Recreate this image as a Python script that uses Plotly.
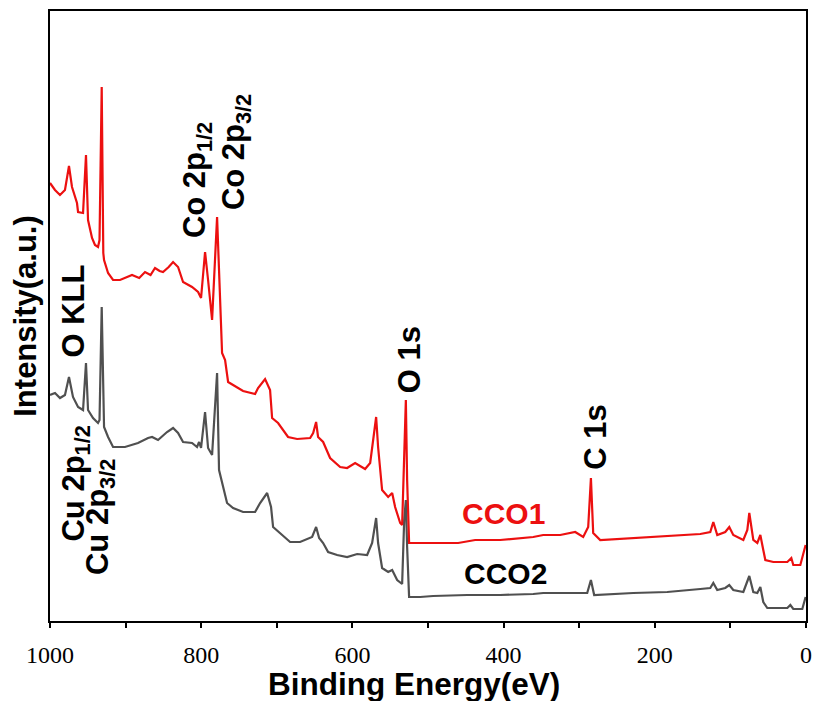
import plotly.graph_objects as go

# Binding energy (eV) and intensity (a.u.)
cco1_be = [1000, 993.4, 986.8, 980.2, 974.9, 970.9, 964.3, 962.9, 956.3, 952.4, 949.7, 944.4, 940.5,
           936.5, 934.5, 931.6, 929.5, 928.5, 923.2, 916.6, 907.4, 900.0, 891.5, 882.0, 874.3, 867.0,
           861.1, 855.0, 850.5, 843.0, 837.2,
           830.6, 824.0, 812.1, 804.1, 800.2, 794.9, 790.9, 785.6, 779.0, 775.0, 772.4, 768.4, 764.4,
           757.8, 744.6, 728.7, 724.8, 715.5, 708.9, 706.2, 698.3, 685.1, 673.1, 655.9, 651.9, 648.0,
           645.4, 638.7, 629.5, 616.2, 607.0, 596.4, 583.2, 576.5, 572.6, 568.6, 566.0, 560.7, 552.7,
           547.4, 543.5, 536.8, 534.2, 531.5, 529.3, 527.6, 525.0, 510.4, 493.2, 460.1, 437.6, 404.5,
           360.8, 347.6, 325.1, 305.3, 294.7, 288.1, 284.5, 281.5, 272.2, 228.5, 183.5, 139.8, 126.6,
           122.6, 117.4, 106.8, 101.5, 96.2, 82.9, 77.6, 75.0, 69.7, 64.4, 60.4, 56.5, 53.8, 43.2,
           24.7, 19.4, 16.8, 7.5, 3.6, 0.5]
cco1_int = [438, 431, 426, 431, 455, 434, 418, 409, 408, 466, 401, 383, 376,
            374, 381, 534, 368, 361, 348, 341, 341, 343, 346, 343, 349, 346,
            353, 350, 349, 354, 359,
            354, 339, 334, 329, 323, 369, 341, 301, 404, 321, 268, 261, 239,
            236, 230, 227, 233, 242, 231, 203, 198, 184, 182, 183, 188, 199,
            184, 179, 163, 154, 153, 158, 152, 158, 181, 204, 174, 131, 124,
            128, 114, 98, 96, 174, 221, 141, 78, 78, 78, 78, 81, 81,
            84, 86, 86, 89, 84, 94, 143, 88, 81, 83, 85, 87, 89,
            99, 86, 89, 94, 86, 81, 91, 108, 81, 78, 86, 71, 61, 59,
            59, 63, 56, 56, 68, 76]

cco2_be = [1000, 993.4, 986.8, 980.2, 974.9, 969.6, 962.9, 956.3, 952.4, 949.7, 943.1, 936.5, 934.5,
           931.6, 928.5, 923.2, 916.6, 900.8, 883.6, 870.3, 865.0, 857.1, 845.2, 837.2, 830.6, 824.0,
           812.1, 805.5, 802.8, 800.2, 794.9, 790.9, 785.6, 779.0, 776.4, 772.4, 765.8, 757.8, 744.6,
           728.7, 722.1, 712.8, 707.6, 704.9, 695.6, 682.4, 669.2, 653.3, 648.0, 644.0, 638.7, 632.1,
           620.2, 607.0, 593.7, 580.5, 573.9, 568.6, 566.0, 560.7, 552.7, 547.4, 540.8, 534.2, 531.5,
           529.3, 527.6, 525.0, 510.4, 493.2, 448.2, 404.5, 360.8, 347.6, 307.9, 289.4, 284.5, 280.2,
           228.5, 183.5, 139.8, 126.6, 122.6, 117.4, 106.8, 101.5, 96.2, 82.9, 75.0, 69.7, 64.4, 60.4,
           56.5, 51.2, 24.7, 20.7, 16.8, 4.9, 0.5]
cco2_int = [226, 228, 223, 226, 244, 224, 214, 211, 258, 211, 203, 198, 201,
            314, 194, 184, 174, 174, 178, 183, 184, 181, 189, 193, 188, 179,
            178, 174, 179, 173, 209, 173, 166, 248, 151, 138, 118, 113, 109,
            109, 118, 128, 114, 94, 88, 79, 79, 84, 94, 83, 78, 69,
            66, 64, 67, 66, 78, 103, 78, 53, 49, 51, 41, 37, 101,
            121, 74, 24, 24, 25, 26, 26, 27, 28, 28, 28, 41, 26,
            28, 29, 32, 33, 38, 31, 33, 36, 31, 29, 45, 29, 28, 34,
            19, 13, 13, 16, 12, 12, 24]

peak_labels = ["O KLL", "Cu 2p<sub>1/2</sub>", "Cu 2p<sub>3/2</sub>", "Co 2p<sub>1/2</sub>",
               "Co 2p<sub>3/2</sub>", "O 1s", "C 1s"]
peak_label_be = [970.2, 966.9, 934.5, 806.1, 754.5, 524.3, 278.8]
peak_label_int = [310, 137.5, 103.5, 440.5, 468.5, 261.5, 183.5]

series_names = ["CCO1", "CCO2"]
x_tick_vals = [1000, 800, 600, 400, 200, 0]
x_tick_text = ["1000", "800", "600", "400", "200", "0"]
x_minor_tick_vals = [900, 700, 500, 300, 100]

RED = "#ec1010"
GRAY = "#505050"
SANS = "Liberation Sans"

fig = go.Figure()
fig.add_trace(go.Scatter(x=cco2_be, y=cco2_int, mode="lines", name=series_names[1],
                         line=dict(color=GRAY, width=2.2)))
fig.add_trace(go.Scatter(x=cco1_be, y=cco1_int, mode="lines", name=series_names[0],
                         line=dict(color=RED, width=2.2)))

ann_font = dict(family=SANS, size=31, color="black")
for txt, bx, by in zip(peak_labels, peak_label_be, peak_label_int):
    fig.add_annotation(x=bx, y=by, xref="x", yref="y", text="<b>" + txt + "</b>",
                       textangle=-90, showarrow=False, font=ann_font,
                       xanchor="center", yanchor="middle")

fig.add_annotation(x=400.5, y=108, xref="x", yref="y", text="<b>" + series_names[0] + "</b>",
                   showarrow=False, font=dict(family=SANS, size=30, color=RED),
                   xanchor="center", yanchor="middle")
fig.add_annotation(x=397.2, y=48, xref="x", yref="y", text="<b>" + series_names[1] + "</b>",
                   showarrow=False, font=dict(family=SANS, size=30, color="black"),
                   xanchor="center", yanchor="middle")

# x-axis title (placed slightly left of centre, as in the reference)
fig.add_annotation(x=0.4815, y=-0.1033, xref="paper", yref="paper",
                   text="<b>Binding Energy(eV)</b>", showarrow=False,
                   font=dict(family=SANS, size=31.5, color="black"),
                   xanchor="center", yanchor="middle")

fig.update_layout(
    width=815, height=701,
    margin=dict(l=50, r=9, t=11, b=80),
    paper_bgcolor="white", plot_bgcolor="white",
    showlegend=False,
    xaxis=dict(range=[1000, 0], tickmode="array", tickvals=x_tick_vals, ticktext=x_tick_text,
               ticks="outside", ticklen=5, tickwidth=2, tickcolor="black",
               minor=dict(tickmode="array", tickvals=x_minor_tick_vals, ticks="outside",
                          ticklen=5, tickwidth=2, tickcolor="black", showgrid=False),
               showline=True, linecolor="black", linewidth=2, mirror=True,
               showgrid=False, zeroline=False, automargin=False, ticklabelstandoff=6,
               tickfont=dict(family="Liberation Serif", size=24, color="black")),
    yaxis=dict(range=[0, 610], showticklabels=False, ticks="",
               showline=True, linecolor="black", linewidth=2, mirror=True,
               showgrid=False, zeroline=False, automargin=False,
               title=dict(text="<b>Intensity(a.u.)</b>", standoff=2,
                          font=dict(family=SANS, size=31, color="black"))),
)

fig.write_html("out.html", post_script="document.body.style.margin='0';",
               config={"displayModeBar": False})
